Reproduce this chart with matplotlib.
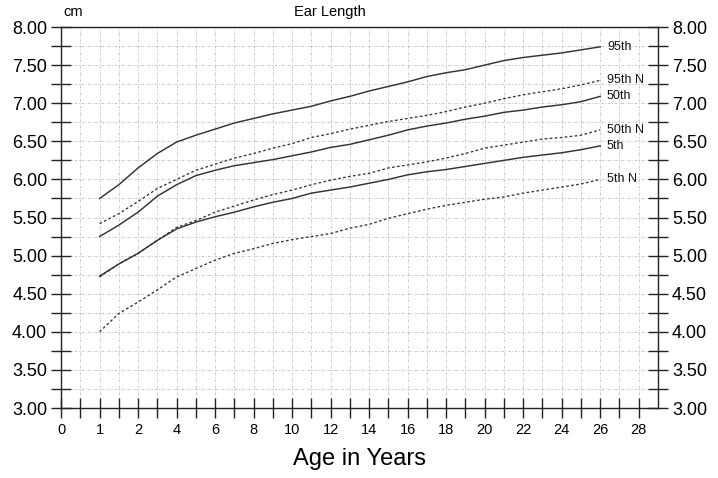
import numpy as np
import matplotlib
matplotlib.use('Agg')
import matplotlib.pyplot as plt
from matplotlib.ticker import FixedLocator, MultipleLocator, FormatStrFormatter

plt.rcParams['font.family'] = ['Liberation Sans', 'DejaVu Sans']

ages = [1, 1.5, 2, 3, 4, 5, 6, 7, 8, 9, 10, 11, 12, 13, 14, 15, 16, 17, 18,
        19, 20, 21, 22, 23, 24, 25, 26]
p95 = [5.75, 5.93, 6.15, 6.34, 6.49, 6.58, 6.66, 6.74, 6.80, 6.86, 6.91, 6.96,
       7.03, 7.09, 7.16, 7.22, 7.28, 7.35, 7.40, 7.44, 7.50, 7.56, 7.60, 7.63,
       7.66, 7.70, 7.74]
p95n = [5.42, 5.55, 5.71, 5.88, 6.00, 6.12, 6.20, 6.28, 6.34, 6.41, 6.47, 6.55,
        6.60, 6.66, 6.71, 6.76, 6.80, 6.84, 6.89, 6.95, 7.00, 7.06, 7.11, 7.15,
        7.19, 7.24, 7.30]
p50 = [5.25, 5.40, 5.57, 5.78, 5.93, 6.05, 6.12, 6.18, 6.22, 6.26, 6.31, 6.36,
       6.42, 6.46, 6.52, 6.58, 6.65, 6.70, 6.74, 6.79, 6.83, 6.88, 6.91, 6.95,
       6.98, 7.02, 7.09]
p50n = [4.72, 4.89, 5.03, 5.20, 5.37, 5.46, 5.57, 5.65, 5.73, 5.80, 5.86, 5.93,
        5.99, 6.04, 6.08, 6.15, 6.19, 6.23, 6.28, 6.34, 6.41, 6.45, 6.49, 6.53,
        6.55, 6.58, 6.65]
p5 = [4.73, 4.89, 5.03, 5.20, 5.35, 5.44, 5.51, 5.57, 5.64, 5.70, 5.75, 5.82,
      5.86, 5.90, 5.95, 6.00, 6.06, 6.10, 6.13, 6.17, 6.21, 6.25, 6.29, 6.32,
      6.35, 6.39, 6.44]
p5n = [4.00, 4.24, 4.39, 4.55, 4.72, 4.83, 4.94, 5.03, 5.09, 5.16, 5.21, 5.25,
       5.29, 5.36, 5.41, 5.49, 5.55, 5.61, 5.66, 5.70, 5.74, 5.77, 5.82, 5.86,
       5.90, 5.94, 6.00]

series = [('95th', p95, '-'), ('95th N', p95n, '--'), ('50th', p50, '-'),
          ('50th N', p50n, '--'), ('5th', p5, '-'), ('5th N', p5n, '--')]

x_major = [0, 1, 2] + list(range(4, 29, 2))
x_minor = [0.5, 1.5] + list(range(3, 28, 2))


# age axis: one unit per year up to 2, then compressed by half
def fwd(a):
    a = np.asarray(a, dtype=float)
    return np.where(a <= 2, a, 2 + (a - 2) / 2)


def inv(t):
    t = np.asarray(t, dtype=float)
    return np.where(t <= 2, t, 2 + (t - 2) * 2)


fig = plt.figure(figsize=(7.18, 4.78), dpi=100)
ax = fig.add_axes([0.085, 0.1464, 0.8314, 0.7971])
ax.set_xscale('function', functions=(fwd, inv))
ax.set_xlim(0, 29)
ax.set_ylim(3, 8)

ink = '#333333'
for name, vals, ls in series:
    if ls == '-':
        ax.plot(ages, vals, color=ink, lw=1.05, ls='-')
    else:
        ax.plot(ages, vals, color=ink, lw=0.95, ls=(0, (2.0, 1.8)))
    ax.text(26.35, vals[-1], name, fontsize=9, va='center', ha='left',
            color='#111')

ax.xaxis.set_major_locator(FixedLocator(x_major))
ax.xaxis.set_minor_locator(FixedLocator(x_minor))
ax.set_xticklabels([str(v) for v in x_major])
ax.yaxis.set_major_locator(MultipleLocator(0.5))
ax.yaxis.set_minor_locator(MultipleLocator(0.25))
ax.yaxis.set_major_formatter(FormatStrFormatter('%.2f'))

ax.tick_params(axis='both', which='both', direction='inout', color='#222',
               width=1.0)
ax.tick_params(axis='x', which='both', length=14, labelsize=10.5, pad=4)
ax.tick_params(axis='y', which='both', length=14, labelsize=13, pad=3,
               right=True, labelright=True)

ax.grid(which='both', color='#bdbdbd', lw=0.6, ls=(0, (3, 2, 1, 2)))
for s in ax.spines.values():
    s.set_color('#222')
    s.set_linewidth(1.0)

ax.set_xlabel('Age in Years', fontsize=17, labelpad=8)
fig.text(0.46, 0.975, 'Ear Length', fontsize=10.5, ha='center', va='center')
fig.text(0.088, 0.975, 'cm', fontsize=10.5, ha='left', va='center')

fig.savefig('out.png', dpi=100)
